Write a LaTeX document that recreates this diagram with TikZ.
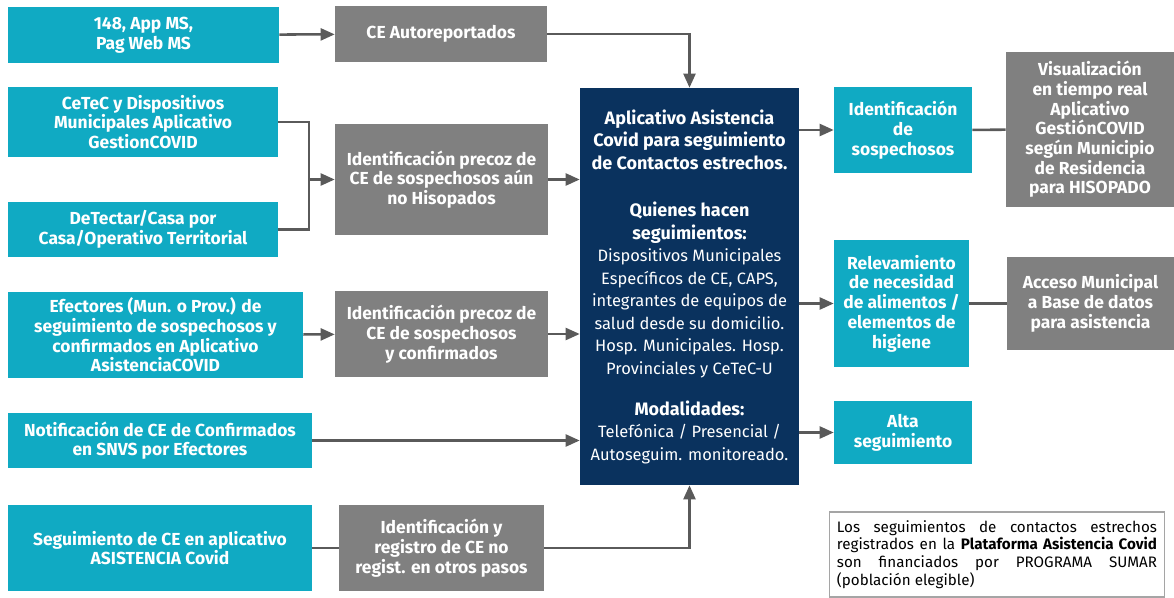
\documentclass[tikz,border=0pt]{standalone}
\usepackage{fontspec}
\setmainfont{Fira Sans}
\usetikzlibrary{arrows.meta,positioning}
\definecolor{celeste}{RGB}{16,170,195}
\definecolor{gris}{RGB}{128,128,128}
\definecolor{marino}{RGB}{10,50,94}
\definecolor{linea}{RGB}{90,90,90}
\definecolor{borde}{RGB}{165,165,165}
\newcommand{\tit}[1]{{\fontsize{12.8}{16}\selectfont\bfseries #1}}

\begin{document}
\begin{tikzpicture}[x=0.025cm, y=-0.025cm,
    tam/.style 2 args={minimum width=#1*0.025cm, minimum height=#2*0.025cm},
    caja/.style={inner sep=0pt, align=center, text=white, font=\fontsize{12.4}{14}\selectfont\bfseries},
    fuente/.style={caja, fill=celeste},
    paso/.style={caja, fill=gris},
    flecha/.style={-{Triangle[length=10pt,width=8.5pt]}, line width=1.8pt, draw=linea},
    union/.style={line width=1.8pt, draw=linea}]
  \useasboundingbox (0,0) rectangle (1174,597);

  % entradas
  \node[fuente, tam={271}{56}] (f148) at (143.5,35) {148, App MS,\\Pag Web MS};
  \node[paso, tam={212}{56}] (autorep) at (441,34) {CE Autoreportados};
  \node[fuente, tam={270}{70}] (cetec) at (143,122) {CeTeC y Dispositivos\\Municipales Aplicativo\\GestionCOVID};
  \node[fuente, tam={270}{55}] (detectar) at (143,229.5) {DeTectar/Casa por\\Casa/Operativo Territorial};
  \node[paso, tam={213}{111}] (precoz1) at (441.5,179.5) {Identificación precoz de\\CE de sospechosos aún\\no Hisopados};
  \node[fuente, tam={295}{86}] (efectores) at (155.5,335) {Efectores (Mun. o Prov.) de\\seguimiento de sospechosos y\\confirmados en Aplicativo\\AsistenciaCOVID};
  \node[paso, tam={213}{86}] (precoz2) at (441.5,334) {Identificación precoz de\\CE de sospechosos\\y confirmados};
  \node[fuente, tam={304}{55}] (notif) at (160,440.5) {Notificación de CE de Confirmados\\en SNVS por Efectores};
  \node[fuente, tam={304}{86}] (seguim) at (160,548) {Seguimiento de CE en aplicativo\\ASISTENCIA Covid};
  \node[paso, tam={205}{86}] (registro) at (441.5,548) {Identificación y\\registro de CE no\\regist. en otros pasos};

  % aplicativo central
  \node[caja, fill=marino, font=\fontsize{11.7}{16}\selectfont, tam={219}{397}] (aplicativo) at (689.5,286.5)
    {\tit{Aplicativo Asistencia}\\\tit{Covid para seguimiento}\\\tit{de Contactos estrechos.}\\[18pt]
     \tit{Quienes hacen}\\\tit{seguimientos:}\\Dispositivos Municipales\\Específicos de CE, CAPS,\\integrantes de equipos de\\salud desde su domicilio.\\Hosp. Municipales. Hosp.\\Provinciales y CeTeC-U\\[13pt]
     \tit{Modalidades:}\\Telefónica / Presencial /\\Autoseguim. monitoreado.};

  % salidas
  \node[fuente, tam={138}{86}] (sospech) at (903,130) {Identificación\\de\\sospechosos};
  \node[paso, tam={168}{155}] (visual) at (1090,129.5) {Visualización\\en tiempo real\\Aplicativo\\GestiónCOVID\\según Municipio\\de Residencia\\para HISOPADO};
  \node[fuente, tam={135}{127}] (releva) at (901.5,303.5) {Relevamiento\\de necesidad\\de alimentos /\\elementos de\\higiene};
  \node[paso, tam={167}{93}] (acceso) at (1090.5,303.5) {Acceso Municipal\\a Base de datos\\para asistencia};
  \node[fuente, tam={138}{63}] (alta) at (903,432.5) {Alta\\seguimiento};

  \node[draw=borde, line width=0.8pt, inner sep=0pt, tam={335}{85}, text width=8cm, align=justify,
        font=\fontsize{10.8}{12.6}\selectfont] (nota) at (997,554.5)
    {Los seguimientos de contactos estrechos\linebreak
     registrados en la \textbf{Plataforma Asistencia Covid}\linebreak
     son financiados por PROGRAMA SUMAR\linebreak
     (población elegible)};

  % conectores
  \draw[flecha] (f148) -- (autorep);
  \draw[flecha] (autorep.east) -| (aplicativo.north);
  \coordinate (junta) at (309,179.5);
  \draw[union] (cetec.east) -| (junta) |- (detectar.east);
  \draw[flecha] (junta) -- (precoz1.west);
  \draw[flecha] (precoz1.east) -- (precoz1.east -| aplicativo.west);
  \draw[flecha] (efectores) -- (precoz2);
  \draw[flecha] (precoz2.east) -- (precoz2.east -| aplicativo.west);
  \draw[flecha] (notif.east) -- (notif.east -| aplicativo.west);
  \draw[union] (seguim) -- (registro);
  \draw[flecha] (registro.east) -| (aplicativo.south);
  \draw[flecha] (aplicativo.east |- sospech.west) -- (sospech.west);
  \draw[union] (sospech) -- (visual);
  \draw[flecha] (aplicativo.east |- releva.west) -- (releva.west);
  \draw[union] (releva) -- (acceso);
  \draw[flecha] (aplicativo.east |- alta.west) -- (alta.west);
\end{tikzpicture}
\end{document}
